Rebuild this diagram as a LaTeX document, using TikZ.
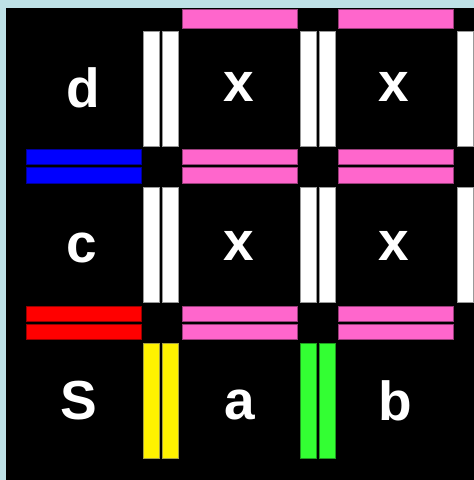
\documentclass[tikz,border=0pt]{standalone}
\usepackage{fontspec}
\setmainfont{Liberation Sans}
\usepackage{tikz}
\definecolor{FondoAzul}{RGB}{190,225,230}
\definecolor{Rosa}{RGB}{255,102,204}
\definecolor{Verde}{RGB}{51,255,51}

\tikzset{
  celda/.style={text=white,font=\fontsize{55}{60}\selectfont\bfseries,inner sep=0pt},
  barra/.style={draw=#1!60!black,line width=0.5pt,fill=#1}
}

\begin{document}
\begin{tikzpicture}[x=1pt,y=-1pt]
  \useasboundingbox (0,0) rectangle (474,480);
  \clip (0,0) rectangle (474,480);
  \fill[FondoAzul] (0,0) rectangle (474,480);
  \fill[black] (6,8) rectangle (474,480);

  % horizontal pairs below the cells (column/row/colour)
  \foreach \i/\j/\col in {0/0/blue,1/0/Rosa,2/0/Rosa,0/1/red,1/1/Rosa,2/1/Rosa}{
    \pgfmathsetmacro{\cx}{83.6+156*\i}
    \pgfmathsetmacro{\cy}{88.5+156.8*\j}
    \draw[barra=\col] (\cx-57.5,\cy+60.5) rectangle (\cx+57.5,\cy+75.5);
    \draw[barra=\col] (\cx-57.5,\cy+78.8) rectangle (\cx+57.5,\cy+94.3);
  }
  % top single bars
  \foreach \i in {1,2}{
    \pgfmathsetmacro{\cx}{83.6+156*\i}
    \draw[barra=Rosa] (\cx-57.5,9.5) rectangle (\cx+57.5,28);
  }
  % vertical pairs right of the cells
  \foreach \i/\j/\col in {0/0/white,1/0/white,2/0/white,0/1/white,1/1/white,2/1/white,0/2/yellow,1/2/Verde}{
    \pgfmathsetmacro{\cx}{83.5+157*\i}
    \pgfmathsetmacro{\cy}{88.4+156*\j}
    \draw[barra=\col] (\cx+59.8,\cy-57.5) rectangle (\cx+75.8,\cy+57.5);
    \draw[barra=\col] (\cx+78.6,\cy-57.5) rectangle (\cx+94.8,\cy+57.5);
  }

  % labels
  \node[celda] (d)   at (83,88.3)    {d};
  \node[celda] (x11) at (238.5,87.2) {x};
  \node[celda] (x12) at (394,87.2)   {x};
  \node[celda] (c)   at (81.3,247.8) {c};
  \node[celda] (x21) at (239,245.5)  {x};
  \node[celda] (x22) at (394,245.5)  {x};
  \node[celda] (S)   at (79.3,400.2) {S};
  \node[celda] (a)   at (239.5,404.8){a};
  \node[celda] (b)   at (395.3,400.5){b};
\end{tikzpicture}
\end{document}
